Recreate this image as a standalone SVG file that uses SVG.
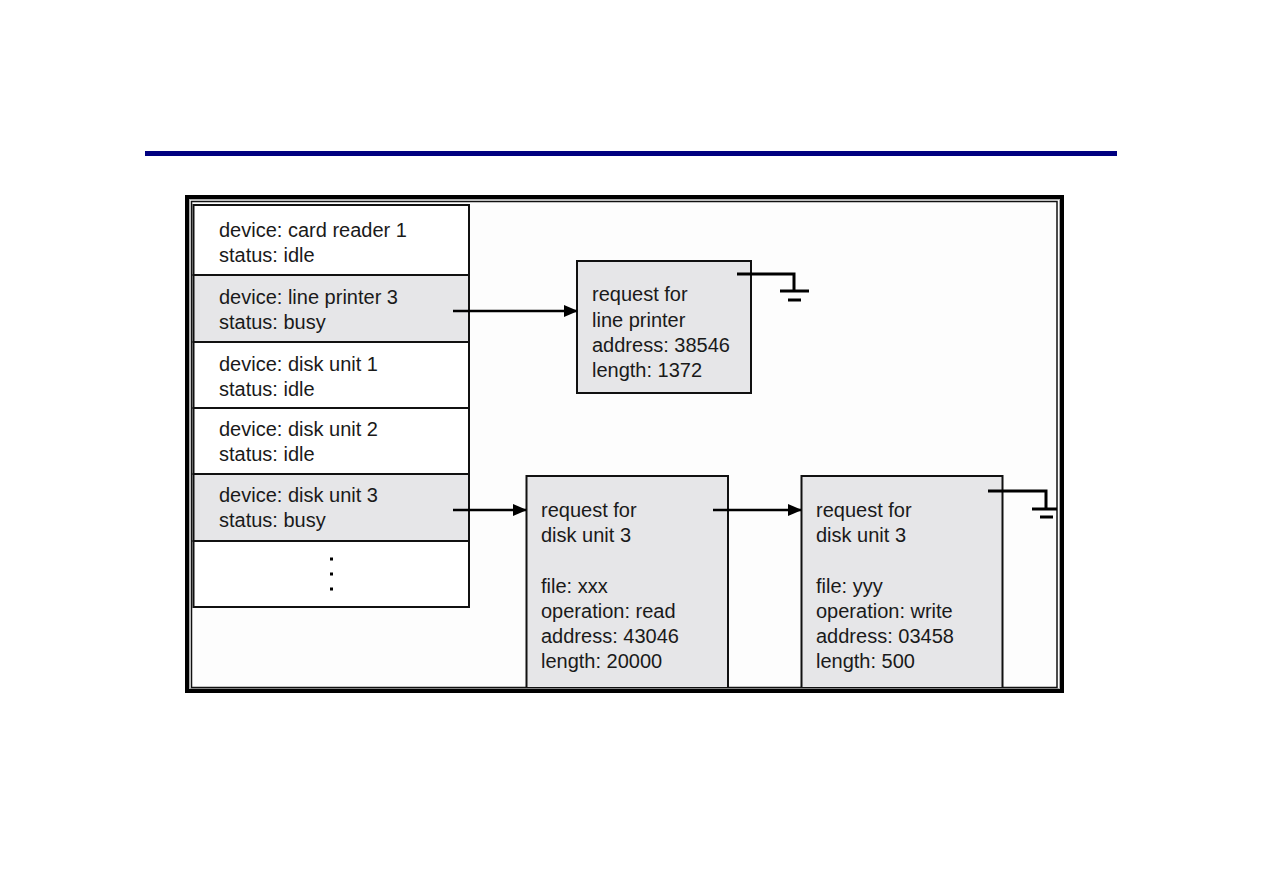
<svg xmlns="http://www.w3.org/2000/svg" width="1263" height="893" viewBox="0 0 1263 893">
<style>
text { font-family: "Liberation Sans", Arial, sans-serif; font-size: 20px; fill: #1a1a1a; }
.row { stroke: #111; stroke-width: 2; }
.white { fill: #ffffff; }
.gray { fill: #e6e6e8; }
.box { fill: #e6e6e8; stroke: #111; stroke-width: 2; }
.conn { stroke: #000; stroke-width: 2.5; fill: none; }
.gnd { stroke: #000; stroke-width: 3; fill: none; }
</style>
<defs>
<marker id="arr" markerWidth="14" markerHeight="12" refX="13" refY="6" orient="auto" markerUnits="userSpaceOnUse">
<path d="M0,0 L14,6 L0,12 Z" fill="#000"/>
</marker>
</defs>
<rect width="1263" height="893" fill="#ffffff"/>
<rect x="145" y="151" width="972" height="5" fill="#000080"/>
<g id="frame">
<rect x="187" y="197" width="875" height="494" fill="#fdfdfd" stroke="#000" stroke-width="4"/>
<rect x="189.5" y="199.5" width="870" height="489" fill="none" stroke="#aaaaaa" stroke-width="1"/>
<rect x="191.5" y="201.5" width="865.5" height="486" fill="none" stroke="#111" stroke-width="1.5"/>
</g>
<g id="device-table">
<g id="row-card-reader">
<rect class="row white" x="193.5" y="205" width="275.5" height="70"/>
<text x="219" y="237">device: card reader 1</text>
<text x="219" y="262">status: idle</text>
</g>
<g id="row-line-printer">
<rect class="row gray" x="193.5" y="275" width="275.5" height="67"/>
<text x="219" y="304">device: line printer 3</text>
<text x="219" y="329">status: busy</text>
</g>
<g id="row-disk1">
<rect class="row white" x="193.5" y="342" width="275.5" height="66"/>
<text x="219" y="371">device: disk unit 1</text>
<text x="219" y="396">status: idle</text>
</g>
<g id="row-disk2">
<rect class="row white" x="193.5" y="408" width="275.5" height="66"/>
<text x="219" y="436">device: disk unit 2</text>
<text x="219" y="461">status: idle</text>
</g>
<g id="row-disk3">
<rect class="row gray" x="193.5" y="474" width="275.5" height="67"/>
<text x="219" y="502">device: disk unit 3</text>
<text x="219" y="527">status: busy</text>
</g>
<g id="row-more">
<rect class="row white" x="193.5" y="541" width="275.5" height="66"/>
<rect x="330" y="557.5" width="3" height="3" fill="#000"/>
<rect x="330" y="572.5" width="3" height="3" fill="#000"/>
<rect x="330" y="587.5" width="3" height="3" fill="#000"/>
</g>
</g>
<g id="req-line-printer">
<rect class="box" x="577" y="261" width="174" height="132"/>
<text x="592" y="301">request for</text>
<text x="592" y="327">line printer</text>
<text x="592" y="352">address: 38546</text>
<text x="592" y="377">length: 1372</text>
</g>
<g id="req-disk-1">
<path class="box" d="M526.5,687 L526.5,476 L728,476 L728,687"/>
<text x="541" y="517">request for</text>
<text x="541" y="542">disk unit 3</text>
<text x="541" y="593">file: xxx</text>
<text x="541" y="618">operation: read</text>
<text x="541" y="643">address: 43046</text>
<text x="541" y="668">length: 20000</text>
</g>
<g id="req-disk-2">
<path class="box" d="M801.5,687 L801.5,476 L1002.5,476 L1002.5,687"/>
<text x="816" y="517">request for</text>
<text x="816" y="542">disk unit 3</text>
<text x="816" y="593">file: yyy</text>
<text x="816" y="618">operation: write</text>
<text x="816" y="643">address: 03458</text>
<text x="816" y="668">length: 500</text>
</g>
<g id="connectors">
<line class="conn" x1="453" y1="311" x2="577" y2="311" marker-end="url(#arr)"/>
<line class="conn" x1="453" y1="510" x2="526" y2="510" marker-end="url(#arr)"/>
<line class="conn" x1="713" y1="510" x2="801" y2="510" marker-end="url(#arr)"/>
<path class="gnd" d="M737,274 L794,274 L794,291"/>
<line class="gnd" x1="780" y1="291" x2="809" y2="291"/>
<line class="gnd" x1="788" y1="300" x2="801" y2="300"/>
<path class="gnd" d="M988,491 L1046,491 L1046,509"/>
<line class="gnd" x1="1032" y1="509" x2="1057" y2="509"/>
<line class="gnd" x1="1040" y1="517" x2="1053" y2="517"/>
</g>
</svg>
